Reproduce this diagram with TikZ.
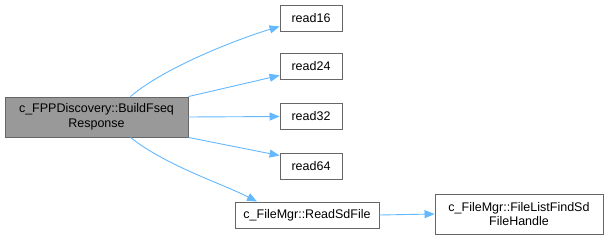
\documentclass[tikz,border=0pt]{standalone}
\usepackage{fontspec}
\setmainfont{Liberation Sans}
\usepackage{tikz}
\usetikzlibrary{arrows.meta}

\definecolor{edgeblue}{HTML}{63B8FF}
\definecolor{boxgray}{HTML}{666666}
\definecolor{maingray}{HTML}{999999}

\begin{document}
\begin{tikzpicture}[
    x=1pt, y=-1pt,
    every node/.style={font=\fontsize{12.5}{14.5}\selectfont, inner sep=0pt, align=center},
    func/.style={draw=boxgray, fill=white, line width=0.9pt, minimum height=26pt},
    caller/.style={draw=boxgray, fill=maingray, line width=0.9pt, minimum height=40pt},
    call/.style={draw=edgeblue, line width=0.9pt, -{Triangle[length=10pt,width=8pt]}}
]
\useasboundingbox (0,0) rectangle (611,241);

% Caller
\node[caller, minimum width=183pt] (build) at (96.5,117)
{c\_FPPDiscovery::BuildFseq\\Response};

% Callees
\node[func, minimum width=62pt] (r16) at (311,18) {read16};
\node[func, minimum width=62pt] (r24) at (311,66) {read24};
\node[func, minimum width=62pt] (r32) at (311,116.5) {read32};
\node[func, minimum width=62pt] (r64) at (311,166) {read64};
\node[func, minimum width=144pt] (rdsd) at (307,215) {c\_FileMgr::ReadSdFile};
\node[func, minimum width=168pt, minimum height=40pt] (find) at (519,214)
{c\_FileMgr::FileListFindSd\\FileHandle};

% Calls
\draw[call] ([xshift=34pt]build.north) .. controls +(35,-30) and +(-40,12) .. ([yshift=5pt]r16.south west);
\draw[call] (build.north east) -- ([yshift=4pt]r24.south west);
\draw[call] (build.east) -- (r32.west);
\draw[call] (build.south east) -- ([yshift=-3pt]r64.north west);
\draw[call] ([xshift=34pt]build.south) .. controls +(35,28) and +(-35,-18) .. ([xshift=-50pt]rdsd.north);
\draw[call] (rdsd.east) -- (find.west);

\end{tikzpicture}
\end{document}
